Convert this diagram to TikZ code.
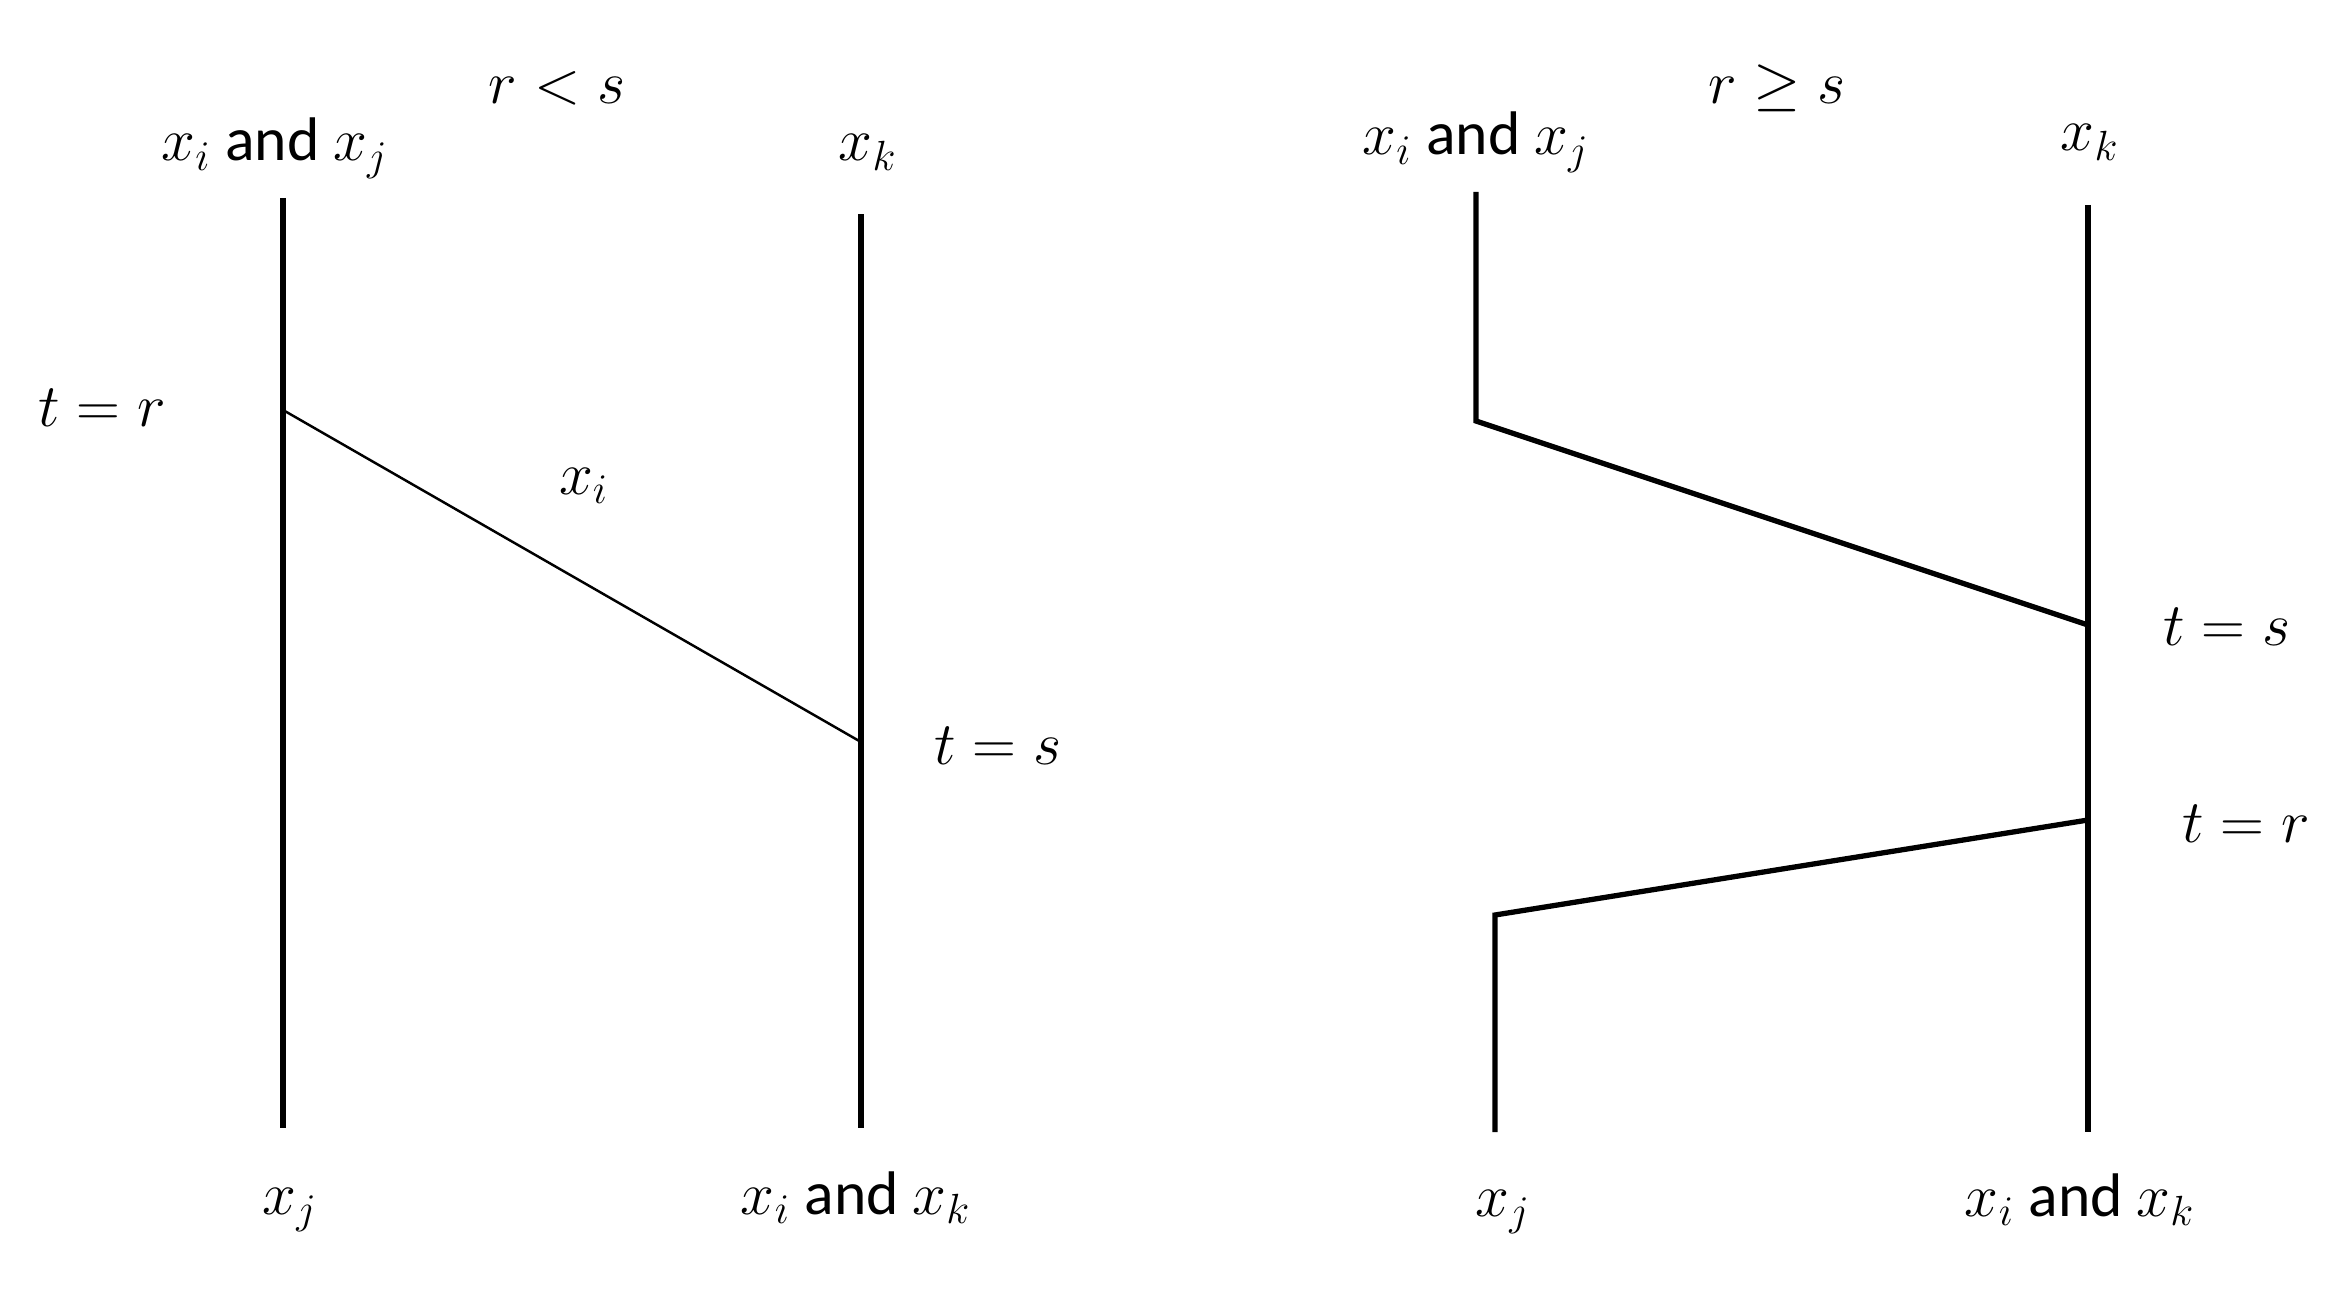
\documentclass[tikz,border=0pt]{standalone}
\usepackage{fontspec}
\setmainfont{Carlito}
\usetikzlibrary{positioning,calc}
\begin{document}
\begin{tikzpicture}[x=0.01cm,y=-0.01cm]
  \tikzset{font=\fontsize{17.5}{21}\selectfont}
  \tikzset{lbl/.style = {anchor=base,inner sep=0pt}}
  \tikzset{world/.style = {line width=1.5pt,line join=miter}}
  \tikzset{move/.style = {line width=0.7pt}}
  \useasboundingbox (0,0) rectangle (2349,1288);

  % r < s
  \coordinate (a1) at (283,198);
  \coordinate (a2) at (283,410);
  \coordinate (a3) at (283,1128);
  \coordinate (b1) at (861,214);
  \coordinate (b2) at (861,742);
  \coordinate (b3) at (861,1128);

  \node[lbl] (ttl1) at (557,104) {$r<s$};
  \node[lbl] (top1) at (275,161) {$x_i$ and $x_j$};
  \node[lbl] (top2) at (868,161) {$x_k$};
  \node[lbl] (tr1) at (102,426) {$t=r$};
  \node[lbl] (mid) at (584,494) {$x_i$};
  \node[lbl] (ts1) at (998,764) {$t=s$};
  \node[lbl] (bot1) at (290,1214) {$x_j$};
  \node[lbl] (bot2) at (856,1214) {$x_i$ and $x_k$};

  \draw[world] (a1) -- (a3);
  \draw[world] (b1) -- (b3);
  \draw[move] (a2) -- (b2);

  % r >= s
  \coordinate (c1) at (1476,192);
  \coordinate (c2) at (1476,421);
  \coordinate (d1) at (2088,205);
  \coordinate (d2) at (2088,625);
  \coordinate (d3) at (2088,820);
  \coordinate (d4) at (2088,1132);
  \coordinate (e1) at (1495,915);
  \coordinate (e2) at (1495,1132);

  \node[lbl] (ttl2) at (1777,104) {$r\geq s$};
  \node[lbl] (top3) at (1476,155) {$x_i$ and $x_j$};
  \node[lbl] (top4) at (2090,151) {$x_k$};
  \node[lbl] (ts2) at (2227,645) {$t=s$};
  \node[lbl] (tr2) at (2246,842) {$t=r$};
  \node[lbl] (bot3) at (1503,1216) {$x_j$};
  \node[lbl] (bot4) at (2080,1216) {$x_i$ and $x_k$};

  \draw[world] (c1) -- (c2) -- (d2);
  \draw[world] (d1) -- (d4);
  \draw[world] (d3) -- (e1) -- (e2);
\end{tikzpicture}
\end{document}
